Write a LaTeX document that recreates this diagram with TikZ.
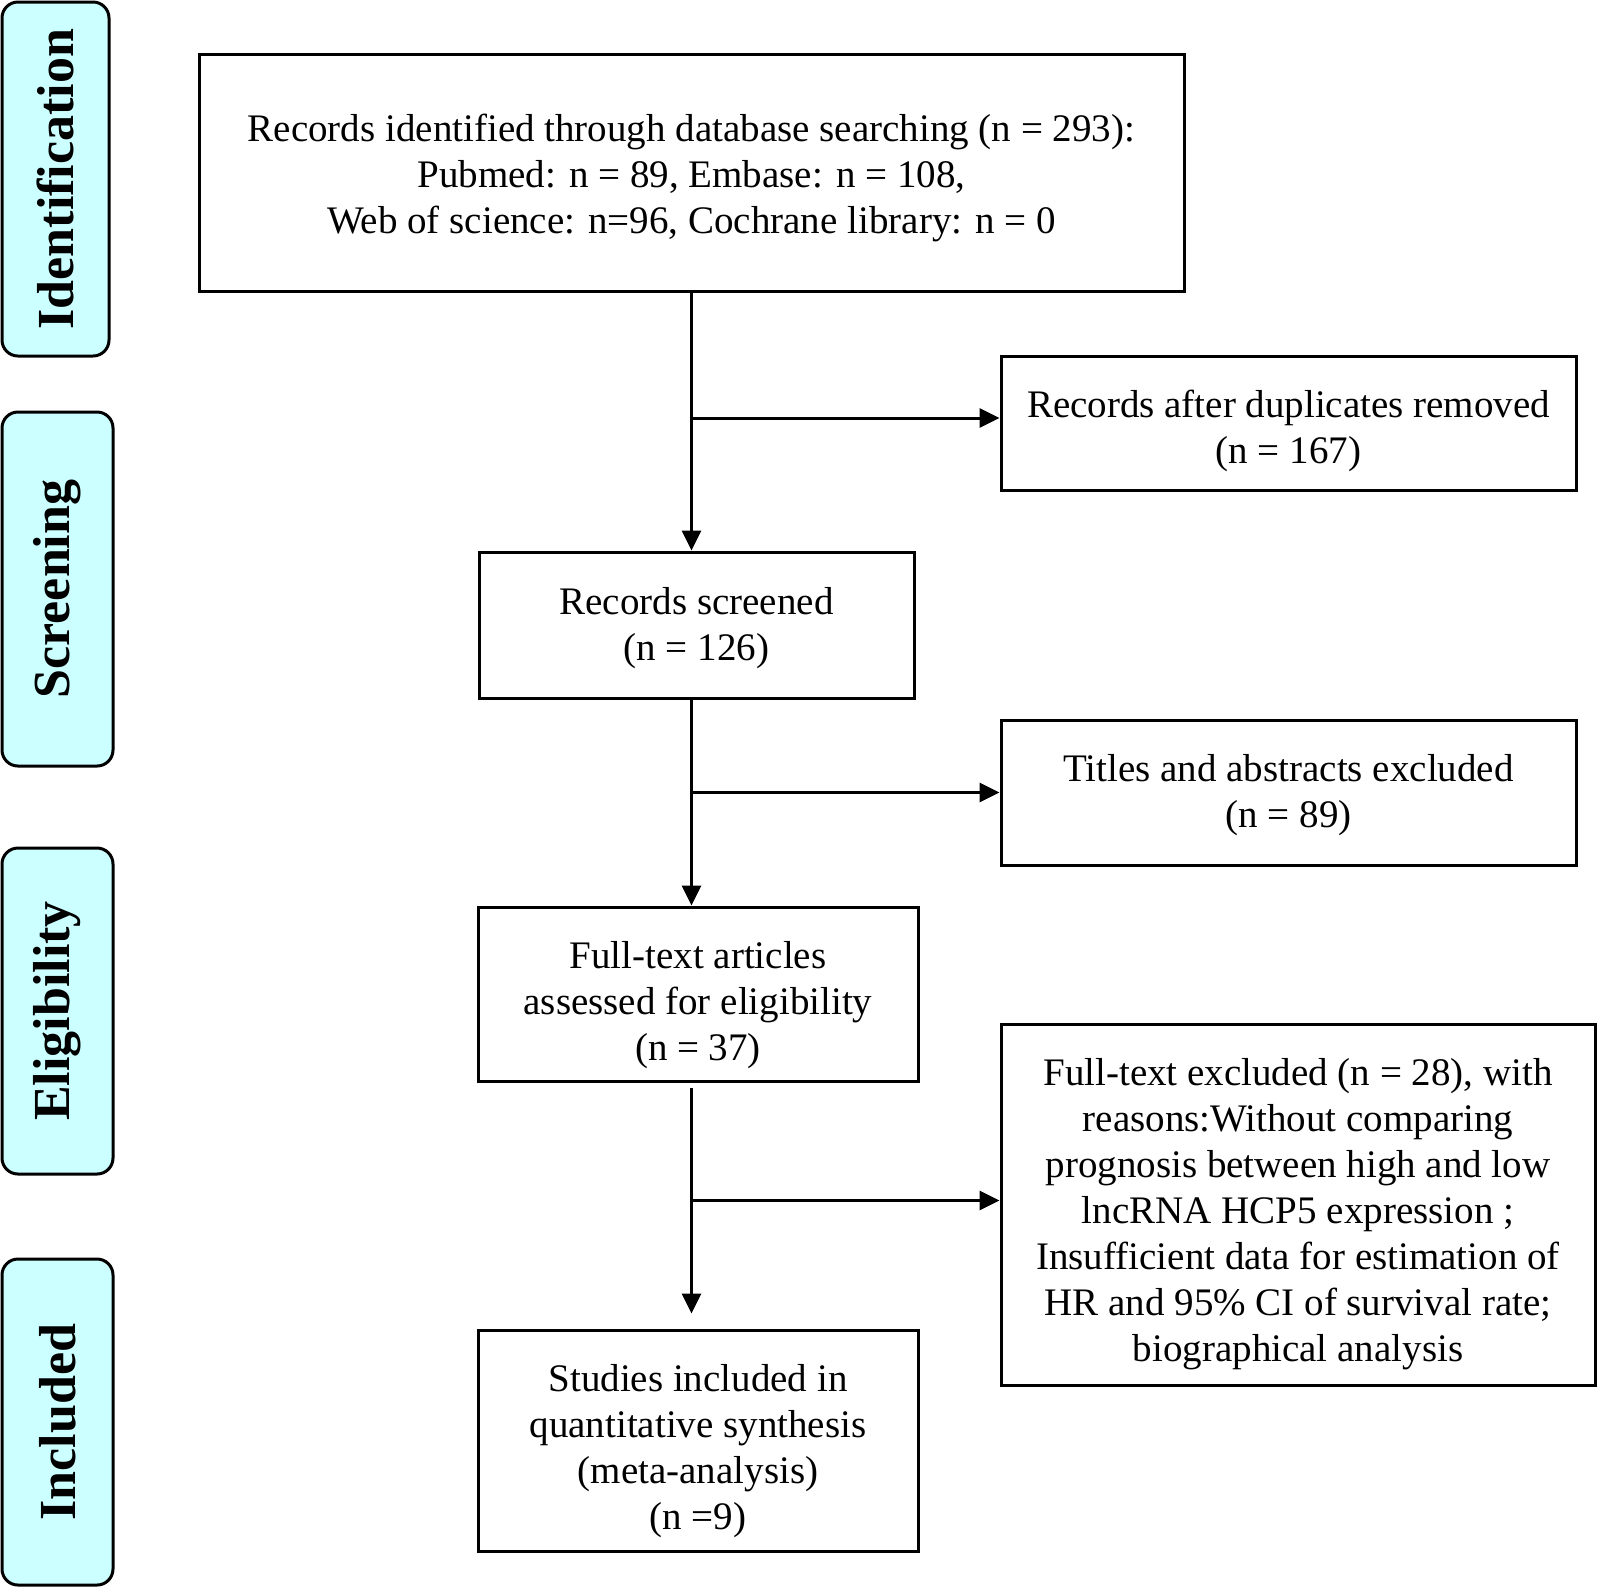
\documentclass[tikz,border=0pt]{standalone}
\usepackage{fontspec}
\setmainfont{Liberation Serif}
\usepackage{tikz}
\usetikzlibrary{arrows.meta}

\definecolor{stagefill}{RGB}{204,255,255}
\newcommand{\boxlines}[2]{\raisebox{-#1}[\height][\depth]{\begin{tabular}{@{}c@{}}#2\end{tabular}}}

\begin{document}
\begin{tikzpicture}[x=0.5pt,y=-0.5pt,line width=1.5pt,
      stage/.style={draw,rounded corners=8pt,fill=stagefill,rotate=90,
        font=\fontsize{26}{30}\selectfont\bfseries},
      box/.style={draw,font=\fontsize{19.5}{23}\selectfont,inner sep=0pt},
      arr/.style={-{Triangle[length=10pt,width=9.5pt]}}]
    \useasboundingbox (0,0) rectangle (1598,1587);
    % stages on the left
    \node[stage,minimum width=177pt,minimum height=53.5pt] (ident) at (55.5,179) {Identification};
    \node[stage,minimum width=177pt,minimum height=55.5pt] (screen) at (57.5,589) {Screening};
    \node[stage,minimum width=163pt,minimum height=55.5pt] (elig) at (57.5,1011) {Eligibility};
    \node[stage,minimum width=163pt,minimum height=55.5pt] (incl) at (57.5,1422) {Included};
    % main flow
    \node[box,minimum width=492.5pt,minimum height=118.5pt] (records) at (691.5,172.5)
      {\boxlines{3pt}{Records identified through database searching (n = 293):\\
       Pubmed: n = 89, Embase: n = 108,\\
       Web of science: n=96, Cochrane library: n = 0}};
    \node[box,minimum width=217.5pt,minimum height=73pt] (screened) at (696.5,625)
      {\boxlines{1.5pt}{Records screened\\(n = 126)}};
    \node[box,minimum width=220pt,minimum height=87pt] (fulltext) at (698,994)
      {\boxlines{5.5pt}{Full-text articles\\assessed for eligibility\\(n = 37)}};
    \node[box,minimum width=220pt,minimum height=110.5pt] (studies) at (698,1440.5)
      {\boxlines{5.5pt}{Studies included in\\quantitative synthesis\\(meta-analysis)\\(n =9)}};
    % side boxes
    \node[box,minimum width=287.5pt,minimum height=67pt] (dups) at (1288.5,423)
      {\boxlines{4pt}{Records after duplicates removed\\(n = 167)}};
    \node[box,minimum width=287.5pt,minimum height=72.5pt] (titles) at (1288.5,792.5)
      {\boxlines{1.5pt}{Titles and abstracts excluded\\(n = 89)}};
    \node[box,minimum width=297pt,minimum height=180.5pt] (excluded) at (1298,1204.5)
      {\boxlines{5pt}{Full-text excluded (n = 28), with\\
       reasons:Without comparing\\
       prognosis between high and low\\
       lncRNA HCP5 expression ;\\
       Insufficient data for estimation of\\
       HR and 95\% CI of survival rate;\\
       biographical analysis}};
    % arrows
    \draw[arr] (records.south) -- (records.south |- screened.north);
    \draw[arr] ([yshift=2.5pt]records.south |- dups.west) -- ([yshift=2.5pt]dups.west);
    \draw[arr] (records.south |- screened.south) -- (records.south |- fulltext.north);
    \draw[arr] (records.south |- titles.west) -- (titles.west);
    \draw[arr,shorten <=2.5pt,shorten >=7.5pt] (records.south |- fulltext.south) -- (records.south |- studies.north);
    \draw[arr] ([yshift=2pt]records.south |- excluded.west) -- ([yshift=2pt]excluded.west);
\end{tikzpicture}
\end{document}
